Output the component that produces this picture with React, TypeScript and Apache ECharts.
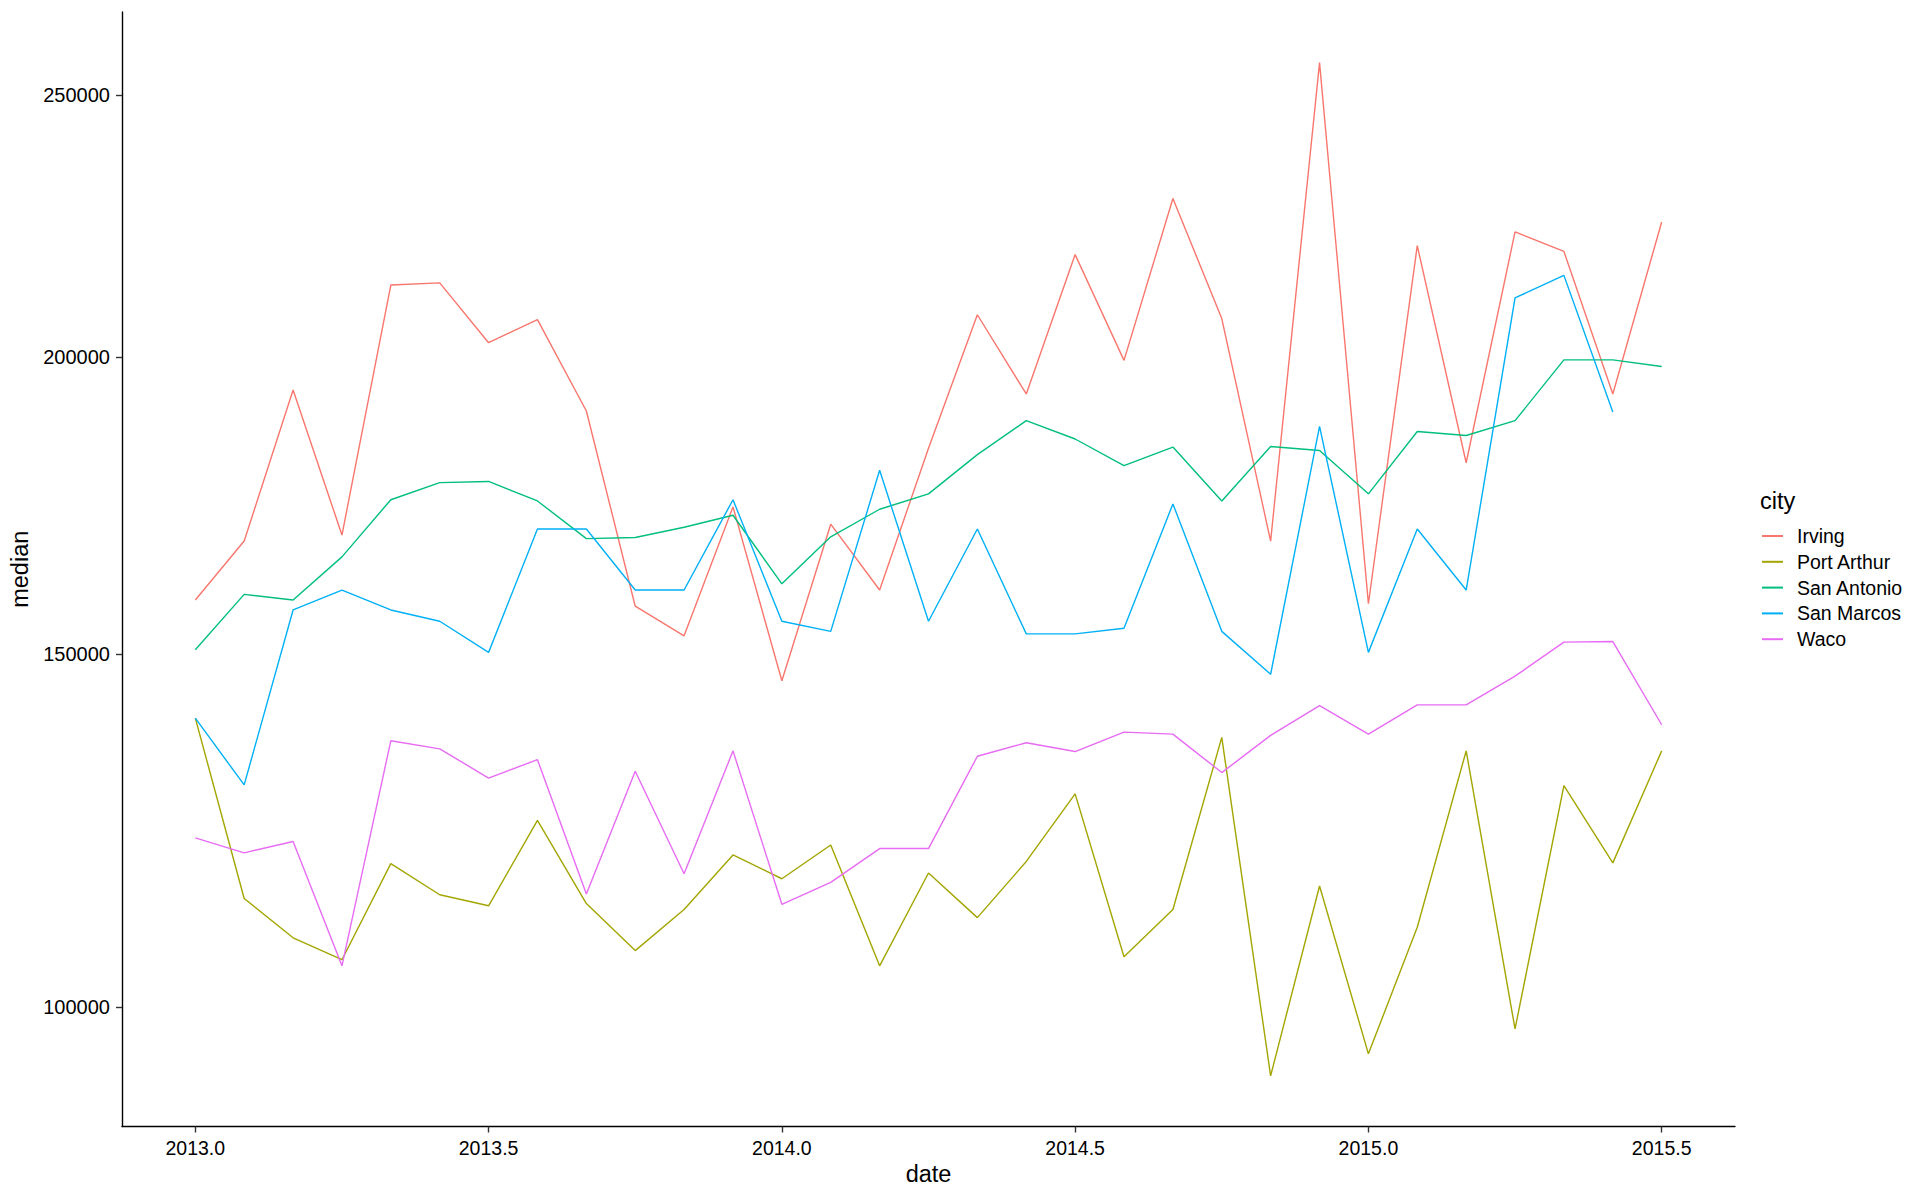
import React, { useEffect, useRef } from "react";
import * as echarts from "echarts";

// decimal-year dates (monthly, Jan 2013 – Jul 2015)
const dates = [
  2013.0, 2013.0833, 2013.1667, 2013.25, 2013.3333, 2013.4167, 2013.5, 2013.5833, 2013.6667, 2013.75, 2013.8333, 2013.9167,
  2014.0, 2014.0833, 2014.1667, 2014.25, 2014.3333, 2014.4167, 2014.5, 2014.5833, 2014.6667, 2014.75, 2014.8333, 2014.9167,
  2015.0, 2015.0833, 2015.1667, 2015.25, 2015.3333, 2015.4167, 2015.5,
];

const cities = ["Irving", "Port Arthur", "San Antonio", "San Marcos", "Waco"];
const colors = ["#F8766D", "#A3A500", "#00BF7D", "#00B0F6", "#E76BF3"];

const irving = [158600, 168200, 194100, 169200, 213200, 213600, 202600, 206800, 190400, 157600, 152900, 173900, 145900, 171000, 160200, 183900, 207700, 193400, 218900, 199400, 229600, 207000, 168200, 256600, 158000, 220600, 181400, 223200, 219500, 193400, 225100];
const portArthur = [140200, 114300, 109000, 106100, 119100, 114800, 113300, 125200, 113600, 107300, 112800, 120300, 117000, 121700, 105300, 117800, 111700, 119400, 129000, 106500, 112800, 137300, 91400, 116000, 94100, 110400, 135300, 97200, 130200, 119200, 135300];
const sanAntonio = [150700, 159500, 158600, 165600, 175100, 178000, 178200, 174900, 168600, 168800, 170500, 172500, 161200, 168900, 173500, 176100, 182800, 188700, 185500, 180900, 184100, 174900, 184200, 183500, 176100, 186800, 186100, 188700, 199500, 199500, 198300];
const sanMarcos = [140200, 130300, 157000, 160200, 157000, 155200, 150300, 170200, 170200, 160200, 160200, 175100, 155200, 153600, 180100, 155200, 170200, 153200, 153200, 154100, 174400, 153600, 146900, 187700, 150300, 170200, 160200, 210800, 215000, 190200];
const waco = [122700, 120600, 122200, 105300, 136800, 135600, 131300, 134000, 114900, 132300, 117700, 135300, 113500, 116500, 121200, 121200, 134500, 136500, 135200, 138100, 137800, 132100, 137600, 142100, 137800, 142200, 142200, 146600, 151900, 152000, 139200];

const seriesValues = [irving, portArthur, sanAntonio, sanMarcos, waco];

const yTicks = [100000, 150000, 200000, 250000];
const xTicks = [2013.0, 2013.5, 2014.0, 2014.5, 2015.0, 2015.5];

const FONT = "'Liberation Sans', Arial, Helvetica, sans-serif";

export default function App() {
  const ref = useRef<HTMLDivElement>(null);

  useEffect(() => {
    if (!ref.current) return;
    const chart = echarts.init(ref.current, undefined, { renderer: "svg" });

    // sqrt-transformed y scale with ggplot-like 5% expansion
    const allVals = seriesValues.flat();
    const sMin = Math.sqrt(Math.min(...allVals));
    const sMax = Math.sqrt(Math.max(...allVals));
    const sPad = (sMax - sMin) * 0.05;
    const xMin = dates[0];
    const xMax = dates[dates.length - 1];
    const xPad = (xMax - xMin) * 0.05;

    chart.setOption({
      animation: false,
      backgroundColor: "#ffffff",
      textStyle: { fontFamily: FONT },
      grid: { left: 122, right: 185, top: 12, bottom: 73.5, containLabel: false },
      xAxis: {
        type: "value",
        min: xMin - xPad,
        max: xMax + xPad,
        name: "date",
        nameLocation: "middle",
        nameGap: 33,
        nameTextStyle: { fontSize: 23.5, color: "#000", fontFamily: FONT },
        axisLine: { show: true, lineStyle: { color: "#000", width: 1.4 } },
        axisTick: { show: true, length: 6, customValues: xTicks, lineStyle: { color: "#333", width: 1.4 } },
        axisLabel: {
          customValues: xTicks,
          fontSize: 19.5,
          color: "#000",
          margin: 11,
          fontFamily: FONT,
          formatter: (v: number) => v.toFixed(1),
        },
        splitLine: { show: false },
      },
      yAxis: {
        type: "value",
        min: sMin - sPad,
        max: sMax + sPad,
        name: "median",
        nameLocation: "middle",
        nameGap: 90,
        nameRotate: 90,
        nameTextStyle: { fontSize: 23.5, color: "#000", fontFamily: FONT },
        axisLine: { show: true, lineStyle: { color: "#000", width: 1.4 } },
        axisTick: { show: true, length: 6, customValues: yTicks.map((t) => Math.sqrt(t)), lineStyle: { color: "#333", width: 1.4 } },
        axisLabel: {
          customValues: yTicks.map((t) => Math.sqrt(t)),
          fontSize: 20,
          color: "#000",
          margin: 12,
          fontFamily: FONT,
          formatter: (v: number) => String(Math.round(v * v)),
        },
        splitLine: { show: false },
      },
      legend: {
        orient: "vertical",
        left: 1762,
        top: 526,
        padding: 0,
        icon: "rect",
        itemWidth: 21,
        itemHeight: 2,
        itemGap: 5.8,
        data: cities,
        textStyle: { fontSize: 19.5, color: "#000", fontFamily: FONT, lineHeight: 20, padding: [0, 0, 0, 9] },
      },
      graphic: [
        {
          type: "text",
          left: 1760,
          top: 489,
          style: { text: "city", fontSize: 23.5, fill: "#000", fontFamily: FONT },
        },
      ],
      series: cities.map((c, k) => ({
        name: c,
        type: "line",
        data: seriesValues[k].map((v, i) => [dates[i], Math.sqrt(v)]),
        showSymbol: false,
        symbol: "none",
        lineStyle: { color: colors[k], width: 1.4 },
        itemStyle: { color: colors[k] },
        color: colors[k],
      })),
    });

    return () => chart.dispose();
  }, []);

  return <div ref={ref} style={{ position: "fixed", left: 0, top: 0, width: 1920, height: 1200 }} />;
}
